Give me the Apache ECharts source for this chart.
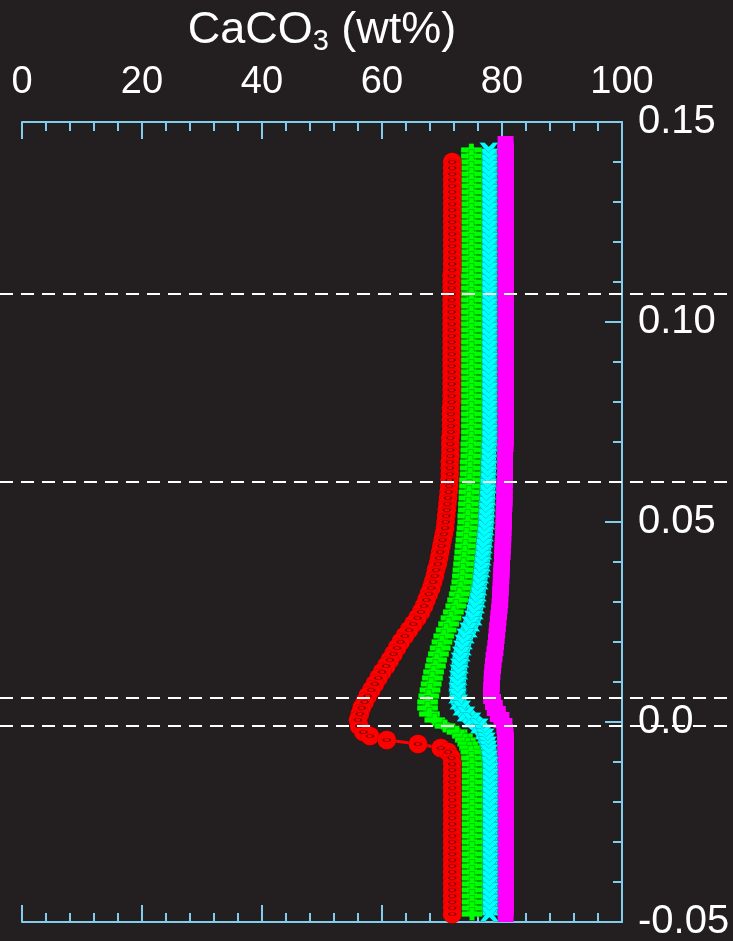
<!DOCTYPE html>
<html>
<head>
<meta charset="utf-8">
<script src="https://cdn.jsdelivr.net/npm/echarts@6/dist/echarts.min.js"></script>
<style>
  html, body { margin: 0; padding: 0; background: #231f20; }
  #chart { width: 733px; height: 941px; }
</style>
</head>
<body>
<div id="chart"></div>
<script>
// Depth grid shared by all four profiles (m), top to bottom
const depth = [
  0.1445, 0.143, 0.1415, 0.14, 0.1385, 0.137, 0.1355, 0.134, 0.1325, 0.131,
  0.1295, 0.128, 0.1265, 0.125, 0.1235, 0.122, 0.1205, 0.119, 0.1175, 0.116,
  0.1145, 0.113, 0.1115, 0.11, 0.1085, 0.107, 0.1055, 0.104, 0.1025, 0.101,
  0.0995, 0.098, 0.0965, 0.095, 0.0935, 0.092, 0.0905, 0.089, 0.0875, 0.086,
  0.0845, 0.083, 0.0815, 0.08, 0.0785, 0.077, 0.0755, 0.074, 0.0725, 0.071,
  0.0695, 0.068, 0.0665, 0.065, 0.0635, 0.062, 0.0605, 0.059, 0.0575, 0.056,
  0.0545, 0.053, 0.0515, 0.05, 0.0485, 0.047, 0.0455, 0.044, 0.0425, 0.041,
  0.0395, 0.038, 0.0365, 0.035, 0.0335, 0.032, 0.0305, 0.029, 0.0275, 0.026,
  0.0245, 0.023, 0.0215, 0.02, 0.0185, 0.017, 0.0155, 0.014, 0.0125, 0.011,
  0.0095, 0.008, 0.0065, 0.005, 0.0035, 0.002, 0.0005, -0.001, -0.0025, -0.0035,
  -0.0045, -0.0055, -0.0065, -0.0075, -0.009, -0.0105, -0.012, -0.0135, -0.015, -0.0165,
  -0.018, -0.0195, -0.021, -0.0225, -0.024, -0.0255, -0.027, -0.0285, -0.03, -0.0315,
  -0.033, -0.0345, -0.036, -0.0375, -0.039, -0.0405, -0.042, -0.0435, -0.045, -0.0465,
  -0.048
];

// CaCO3 content (wt%) at each depth, one array per run
const caRed = [
  null, null, null, 71.7, 71.7, 71.7, 71.7, 71.7, 71.7, 71.7,
  71.7, 71.7, 71.7, 71.7, 71.7, 71.7, 71.7, 71.7, 71.7, 71.7,
  71.7, 71.7, 71.6, 71.6, 71.6, 71.6, 71.6, 71.6, 71.6, 71.6,
  71.6, 71.6, 71.6, 71.6, 71.6, 71.6, 71.6, 71.6, 71.6, 71.6,
  71.6, 71.6, 71.6, 71.6, 71.5, 71.5, 71.5, 71.5, 71.5, 71.4,
  71.4, 71.4, 71.4, 71.3, 71.3, 71.3, 71.25, 71.2, 71.1, 71.0,
  70.9, 70.8, 70.7, 70.6, 70.5, 70.3, 70.1, 69.9, 69.7, 69.5,
  69.3, 69.0, 68.8, 68.5, 68.2, 67.8, 67.4, 67.0, 66.5, 65.9,
  65.2, 64.5, 63.8, 63.1, 62.5, 61.9, 61.3, 60.7, 60.0, 59.4,
  58.8, 58.2, 57.6, 57.1, 56.6, 56.3, 56.0, 56.2, 56.9, 58.0,
  60.8, 66.0, 69.8, 71.0, 71.6, 71.7, 71.7, 71.7, 71.7, 71.7,
  71.7, 71.7, 71.7, 71.7, 71.7, 71.7, 71.7, 71.7, 71.7, 71.7,
  71.7, 71.7, 71.7, 71.7, 71.7, 71.7, 71.7, 71.7, 71.7, 71.7,
  71.7
];
const caGreen = [
  null, 74.9, 74.9, 74.9, 74.9, 74.9, 74.9, 74.9, 74.9, 74.9,
  74.9, 74.9, 74.9, 74.9, 74.9, 74.9, 74.9, 74.9, 74.9, 74.9,
  74.9, 74.9, 74.9, 74.9, 74.9, 74.9, 74.9, 74.9, 74.9, 74.9,
  74.9, 74.9, 74.9, 74.9, 74.9, 74.9, 74.9, 74.9, 74.9, 74.9,
  74.9, 74.9, 74.9, 74.9, 74.9, 74.9, 74.9, 74.9, 74.9, 74.9,
  74.8, 74.8, 74.8, 74.7, 74.7, 74.7, 74.6, 74.6, 74.5, 74.5,
  74.4, 74.4, 74.3, 74.3, 74.2, 74.1, 74.0, 73.9, 73.8, 73.7,
  73.6, 73.5, 73.4, 73.3, 73.1, 72.9, 72.6, 72.3, 71.9, 71.5,
  71.1, 70.7, 70.3, 70.0, 69.7, 69.4, 69.1, 68.9, 68.6, 68.4,
  68.2, 68.0, 67.8, 67.6, 67.6, 67.9, 68.8, 70.5, 72.5, 73.4,
  73.9, 74.3, 74.6, 74.8, 74.9, 75.0, 75.0, 75.0, 75.0, 75.0,
  75.0, 75.0, 75.0, 75.0, 75.0, 75.0, 75.0, 75.0, 75.0, 75.0,
  75.0, 75.0, 75.0, 75.0, 75.0, 75.0, 75.0, 75.0, 75.0, 75.0,
  75.0
];
const caCyan = [
  null, 77.8, 77.8, 77.8, 77.8, 77.8, 77.8, 77.8, 77.8, 77.8,
  77.8, 77.8, 77.8, 77.8, 77.8, 77.8, 77.8, 77.8, 77.8, 77.8,
  77.8, 77.8, 77.8, 77.8, 77.8, 77.8, 77.8, 77.8, 77.8, 77.8,
  77.8, 77.8, 77.8, 77.8, 77.8, 77.8, 77.8, 77.8, 77.8, 77.8,
  77.8, 77.8, 77.8, 77.8, 77.8, 77.8, 77.8, 77.8, 77.8, 77.8,
  77.8, 77.7, 77.7, 77.7, 77.7, 77.6, 77.6, 77.6, 77.5, 77.5,
  77.4, 77.4, 77.3, 77.3, 77.2, 77.1, 77.0, 76.9, 76.8, 76.7,
  76.6, 76.5, 76.3, 76.2, 76.0, 75.9, 75.8, 75.6, 75.4, 75.2,
  74.8, 74.4, 73.9, 73.6, 73.4, 73.2, 73.0, 72.9, 72.8, 72.7,
  72.6, 72.6, 72.6, 72.8, 73.3, 74.0, 75.0, 76.2, 76.9, 77.2,
  77.4, 77.6, 77.7, 77.8, 77.8, 77.9, 77.9, 77.9, 77.9, 77.9,
  77.9, 77.9, 77.9, 77.9, 77.9, 77.9, 77.9, 77.9, 77.9, 77.9,
  77.9, 77.9, 77.9, 77.9, 77.9, 77.9, 77.9, 77.9, 77.9, 77.9,
  77.9
];
const caMagenta = [
  80.6, 80.6, 80.6, 80.6, 80.6, 80.6, 80.6, 80.6, 80.6, 80.6,
  80.6, 80.6, 80.6, 80.6, 80.6, 80.6, 80.6, 80.6, 80.6, 80.6,
  80.6, 80.6, 80.6, 80.6, 80.6, 80.6, 80.6, 80.6, 80.6, 80.6,
  80.6, 80.6, 80.6, 80.6, 80.6, 80.6, 80.6, 80.6, 80.6, 80.6,
  80.6, 80.6, 80.6, 80.6, 80.6, 80.6, 80.6, 80.6, 80.6, 80.6,
  80.6, 80.5, 80.5, 80.5, 80.5, 80.5, 80.5, 80.4, 80.4, 80.4,
  80.4, 80.3, 80.3, 80.3, 80.25, 80.2, 80.2, 80.1, 80.1, 80.0,
  80.0, 79.9, 79.9, 79.8, 79.8, 79.7, 79.7, 79.6, 79.5, 79.4,
  79.3, 79.2, 79.1, 79.0, 78.9, 78.75, 78.6, 78.5, 78.4, 78.3,
  78.3, 78.2, 78.2, 78.5, 78.8, 79.3, 79.9, 80.4, 80.5, 80.6,
  80.6, 80.6, 80.6, 80.6, 80.6, 80.6, 80.6, 80.6, 80.6, 80.6,
  80.6, 80.6, 80.6, 80.6, 80.6, 80.6, 80.6, 80.6, 80.6, 80.6,
  80.6, 80.6, 80.6, 80.6, 80.6, 80.6, 80.6, 80.6, 80.6, 80.6,
  80.6
];

// Horizontal reference depths (dashed lines)
const refDepths = [0.107, 0.06, 0.006, -0.001];

const FONT = "'Liberation Sans', Arial, Helvetica, sans-serif";
const AXIS_BLUE = '#80cdec';
const BG = '#231f20';

// Marker shapes
const PLUS_PATH = 'path://M0,4 H7.5 V0 H12.5 V4 H20 V10 H12.5 V14 H7.5 V10 H0 Z';
const CROSS_PATH = 'path://M0,0 L5,0 L9,4.5 L13,0 L18,0 L12.5,8 L18,16 L13,16 L9,11.5 L5,16 L0,16 L5.5,8 Z';

function pairs(vals) {
  const out = [];
  for (let i = 0; i < depth.length; i++) {
    if (vals[i] !== null) out.push([vals[i], depth[i]]);
  }
  return out;
}

const axisLineStyle = { color: AXIS_BLUE, width: 2 };

function xAxisCfg(position, withLabels) {
  const cfg = {
    type: 'value',
    position: position,
    min: 0,
    max: 100,
    interval: 20,
    axisLine: { show: true, onZero: false, lineStyle: axisLineStyle },
    axisTick: { show: true, inside: true, length: 17, lineStyle: axisLineStyle },
    minorTick: { show: true, splitNumber: 5, length: 9, lineStyle: axisLineStyle },
    splitLine: { show: false },
    minorSplitLine: { show: false },
    axisLabel: {
      show: withLabels,
      color: '#ffffff',
      fontSize: 38,
      fontFamily: FONT,
      margin: 20
    }
  };
  if (withLabels) {
    cfg.name = '{m|CaCO}{s|3}{m| (wt%)}';
    cfg.nameLocation = 'middle';
    cfg.nameGap = 66;
    cfg.nameTextStyle = {
      color: '#ffffff',
      rich: {
        m: { fontSize: 45, fontFamily: FONT, color: '#ffffff', lineHeight: 50 },
        s: { fontSize: 29, fontFamily: FONT, color: '#ffffff', lineHeight: 24, verticalAlign: 'bottom' }
      }
    };
  }
  return cfg;
}

const chart = echarts.init(document.getElementById('chart'), null, { renderer: 'canvas' });

const option = {
  animation: false,
  backgroundColor: BG,
  grid: { left: 22, right: 111, top: 122, bottom: 19, containLabel: false, outerBoundsMode: 'none' },
  xAxis: [xAxisCfg('top', true), xAxisCfg('bottom', false)],
  yAxis: {
    type: 'value',
    position: 'right',
    min: -0.05,
    max: 0.15,
    interval: 0.05,
    axisLine: { show: true, onZero: false, lineStyle: axisLineStyle },
    axisTick: { show: true, inside: true, length: 17, lineStyle: axisLineStyle },
    minorTick: { show: true, splitNumber: 5, length: 9, lineStyle: axisLineStyle },
    splitLine: { show: false },
    minorSplitLine: { show: false },
    axisLabel: {
      color: '#ffffff',
      fontSize: 40,
      fontFamily: FONT,
      margin: 16,
      formatter: function (v) {
        if (Math.abs(v) < 1e-9) return '0.0';
        return v.toFixed(2);
      }
    }
  },
  series: [
    {
      name: 'magenta',
      type: 'line',
      xAxisIndex: 0,
      yAxisIndex: 0,
      data: pairs(caMagenta),
      silent: true,
      symbol: 'rect',
      symbolSize: 16,
      lineStyle: { color: '#ff00ff', width: 16 },
      itemStyle: { color: '#ff00ff' },
      emphasis: { disabled: true },
      z: 2
    },
    {
      name: 'cyan',
      type: 'line',
      xAxisIndex: 0,
      yAxisIndex: 0,
      data: pairs(caCyan),
      silent: true,
      symbol: CROSS_PATH,
      symbolSize: [19, 15],
      lineStyle: { color: '#00ffff', width: 16 },
      itemStyle: { color: '#00ffff', borderColor: 'rgba(0,0,0,0.35)', borderWidth: 0.5 },
      emphasis: { disabled: true },
      z: 3
    },
    {
      name: 'green',
      type: 'line',
      xAxisIndex: 0,
      yAxisIndex: 0,
      data: pairs(caGreen),
      silent: true,
      symbol: PLUS_PATH,
      symbolSize: [21, 13],
      lineStyle: { color: '#00ff00', width: 10 },
      itemStyle: { color: '#00ff00', borderColor: 'rgba(0,0,0,0.4)', borderWidth: 0.5 },
      emphasis: { disabled: true },
      z: 4
    },
    {
      name: 'red',
      type: 'line',
      xAxisIndex: 0,
      yAxisIndex: 0,
      data: pairs(caRed),
      silent: true,
      symbol: 'circle',
      symbolSize: 19,
      lineStyle: { color: '#ff0000', width: 3 },
      itemStyle: { color: '#ff0000', borderColor: 'rgba(0,0,0,0.25)', borderWidth: 0.6 },
      emphasis: { disabled: true },
      z: 5
    },
    {
      name: 'red-core',
      type: 'scatter',
      xAxisIndex: 0,
      yAxisIndex: 0,
      data: pairs(caRed),
      silent: true,
      symbol: 'circle',
      symbolSize: [7, 3],
      itemStyle: { color: '#ff0000', borderColor: 'rgba(0,0,0,0.7)', borderWidth: 1 },
      emphasis: { disabled: true },
      z: 6
    }
  ]
};

chart.setOption(option);

// Dashed reference lines run across the whole canvas width
const W = chart.getWidth();
chart.setOption({
  graphic: refDepths.map(function (d) {
    const y = Math.round(chart.convertToPixel({ yAxisIndex: 0 }, d));
    return {
      type: 'line',
      z: 100,
      silent: true,
      shape: { x1: 0, y1: y, x2: W, y2: y },
      style: { stroke: '#ffffff', lineWidth: 2, lineDash: [13, 8] }
    };
  })
});
</script>
</body>
</html>
